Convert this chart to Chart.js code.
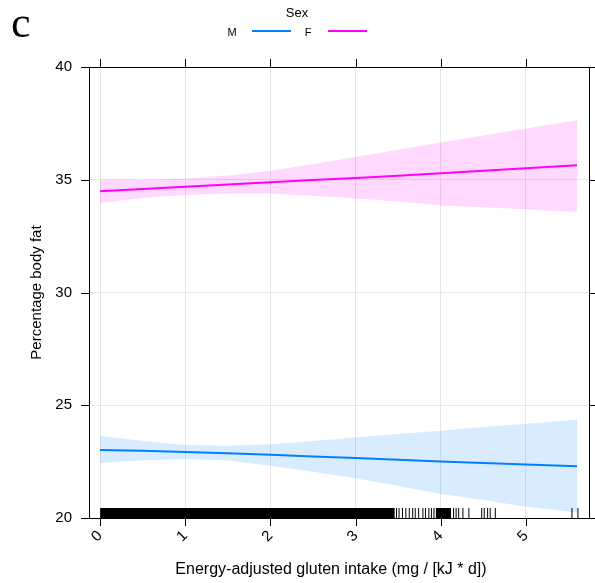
<!DOCTYPE html>
<html>
<head>
<meta charset="utf-8">
<script src="https://cdn.jsdelivr.net/npm/chart.js@4.4.1/dist/chart.umd.min.js"></script>
<style>
  body { margin: 0; background: #fff; }
  canvas { display: block; }
</style>
</head>
<body>
<canvas id="fatChart" width="595" height="583"></canvas>
<script>
// Predicted body fat vs. energy-adjusted gluten intake, by sex
const gluten = [0, 0.5, 1, 1.5, 2, 2.5, 3, 3.5, 4, 4.5, 5, 5.6];

const maleFit   = [23.02, 22.98, 22.93, 22.87, 22.81, 22.73, 22.66, 22.58, 22.51, 22.44, 22.37, 22.30];
const maleUpper = [23.64, 23.42, 23.24, 23.20, 23.27, 23.41, 23.57, 23.72, 23.87, 24.03, 24.18, 24.36];
const maleLower = [22.44, 22.56, 22.62, 22.55, 22.32, 22.05, 21.76, 21.42, 21.06, 20.80, 20.50, 20.24];

const femaleFit   = [34.49, 34.59, 34.69, 34.79, 34.89, 34.99, 35.08, 35.18, 35.29, 35.40, 35.51, 35.64];
const femaleUpper = [35.01, 34.99, 35.06, 35.19, 35.40, 35.69, 36.01, 36.33, 36.65, 36.96, 37.27, 37.64];
const femaleLower = [33.97, 34.19, 34.34, 34.39, 34.39, 34.29, 34.17, 34.03, 33.86, 33.78, 33.69, 33.57];

const xTicks = [0, 1, 2, 3, 4, 5];
const yTicks = [20, 25, 30, 35, 40];

// rug of observed intakes: overlapping stretches drawn solid, the rest one by one
const rugBlocks = [[0, 3.46], [3.94, 4.12]];
const rugSingles = [3.48, 3.51, 3.55, 3.59, 3.63, 3.67, 3.70, 3.74, 3.79, 3.82, 3.86, 3.89, 3.92,
                    4.15, 4.18, 4.21, 4.26, 4.33, 4.48, 4.51, 4.55, 4.58, 4.64, 5.54, 5.61];

const sexLabels = ['M', 'F'];
const sexColors = ['#0080ff', '#ff00ff'];
const bandColors = ['rgba(0,128,255,0.15)', 'rgba(255,0,255,0.15)'];

const FONT = '"Liberation Sans", Arial, sans-serif';
const RUG_TOP = 20.44;

function pts(ys) {
  return gluten.map((x, i) => ({ x: x, y: ys[i] }));
}

function fitLine(ys, color) {
  return { type: 'line', data: pts(ys), borderColor: color, borderWidth: 2,
           pointRadius: 0, fill: false, order: 0 };
}

function band(upper, lower, color) {
  return [
    { type: 'line', data: pts(upper), borderWidth: 0, pointRadius: 0,
      backgroundColor: color, fill: '+1', order: 2 },
    { type: 'line', data: pts(lower), borderWidth: 0, pointRadius: 0,
      fill: false, order: 2 }
  ];
}

const rugBlockSets = rugBlocks.map(b => ({
  type: 'line',
  data: [{ x: b[0], y: RUG_TOP }, { x: b[1], y: RUG_TOP }],
  borderWidth: 0, pointRadius: 0, backgroundColor: '#000', fill: 'start', order: 1
}));

const rugTickSet = {
  type: 'scatter',
  data: rugSingles.map(x => ({ x: x, y: (20 + RUG_TOP) / 2 })),
  pointStyle: 'line', rotation: 90, pointRadius: 5,
  borderColor: '#000', borderWidth: 1, order: 1
};

// box around the panel, outward ticks on all sides, legend and panel letter
const framePlugin = {
  id: 'frame',
  afterDraw(chart) {
    const ctx = chart.ctx;
    const a = chart.chartArea;
    const xs = chart.scales.x, ys = chart.scales.y;
    const len = 8;
    ctx.save();
    ctx.strokeStyle = '#000';
    ctx.lineWidth = 1;
    ctx.strokeRect(a.left + 0.5, a.top + 0.5, a.right - a.left, a.bottom - a.top);
    ctx.beginPath();
    xTicks.forEach(v => {
      const px = Math.round(xs.getPixelForValue(v)) + 0.5;
      ctx.moveTo(px, a.top - len); ctx.lineTo(px, a.top);
      ctx.moveTo(px, a.bottom); ctx.lineTo(px, a.bottom + len);
    });
    yTicks.forEach(v => {
      const py = Math.round(ys.getPixelForValue(v)) + 0.5;
      ctx.moveTo(a.left - len, py); ctx.lineTo(a.left, py);
      ctx.moveTo(a.right, py); ctx.lineTo(a.right + len, py);
    });
    ctx.stroke();

    // x axis title, centred under the panel text block
    ctx.fillStyle = '#000';
    ctx.textAlign = 'center';
    ctx.textBaseline = 'middle';
    ctx.font = '16px ' + FONT;
    ctx.fillText('Energy-adjusted gluten intake (mg / [kJ * d])', 331, 570);

    // legend
    ctx.font = '13px ' + FONT;
    ctx.fillText('Sex', 297, 13);
    ctx.font = '11px ' + FONT;
    let lx = 232;
    sexLabels.forEach((lab, i) => {
      ctx.fillStyle = '#000';
      ctx.fillText(lab, lx, 33);
      ctx.strokeStyle = sexColors[i];
      ctx.lineWidth = 2;
      ctx.beginPath();
      ctx.moveTo(lx + 20, 31);
      ctx.lineTo(lx + 59, 31);
      ctx.stroke();
      lx += 76;
    });

    // panel letter
    ctx.fillStyle = '#000';
    ctx.textAlign = 'left';
    ctx.textBaseline = 'alphabetic';
    ctx.font = '44px "Liberation Serif", "Times New Roman", serif';
    ctx.fillText('c', 11, 37);
    ctx.restore();
  }
};

new Chart(document.getElementById('fatChart'), {
  data: {
    datasets: [
      fitLine(maleFit, sexColors[0]),
      fitLine(femaleFit, sexColors[1]),
      rugTickSet,
      ...rugBlockSets,
      ...band(maleUpper, maleLower, bandColors[0]),
      ...band(femaleUpper, femaleLower, bandColors[1])
    ]
  },
  options: {
    responsive: false,
    animation: false,
    events: [],
    layout: { padding: { top: 67, right: 5, left: 0, bottom: 0 } },
    plugins: { legend: { display: false }, tooltip: { enabled: false } },
    scales: {
      x: {
        type: 'linear',
        min: -0.13,
        max: 5.74,
        afterBuildTicks: s => { s.ticks = xTicks.map(v => ({ value: v })); },
        afterFit: s => { s.height = 65; },
        grid: { color: '#e6e6e6', drawTicks: false },
        border: { display: false },
        ticks: {
          color: '#000', font: { family: FONT, size: 15 },
          minRotation: 45, maxRotation: 45, padding: 9, labelOffset: 0
        }
      },
      y: {
        type: 'linear',
        min: 20,
        max: 40,
        afterBuildTicks: s => { s.ticks = yTicks.map(v => ({ value: v })); },
        afterFit: s => { s.width = 89; },
        grid: { color: '#e6e6e6', drawTicks: false },
        border: { display: false },
        ticks: { color: '#000', font: { family: FONT, size: 15 }, padding: 17 },
        title: {
          display: true, text: 'Percentage body fat',
          color: '#000', font: { family: FONT, size: 15 },
          padding: { top: 28, bottom: 0 }
        }
      }
    }
  },
  plugins: [framePlugin]
});
</script>
</body>
</html>
